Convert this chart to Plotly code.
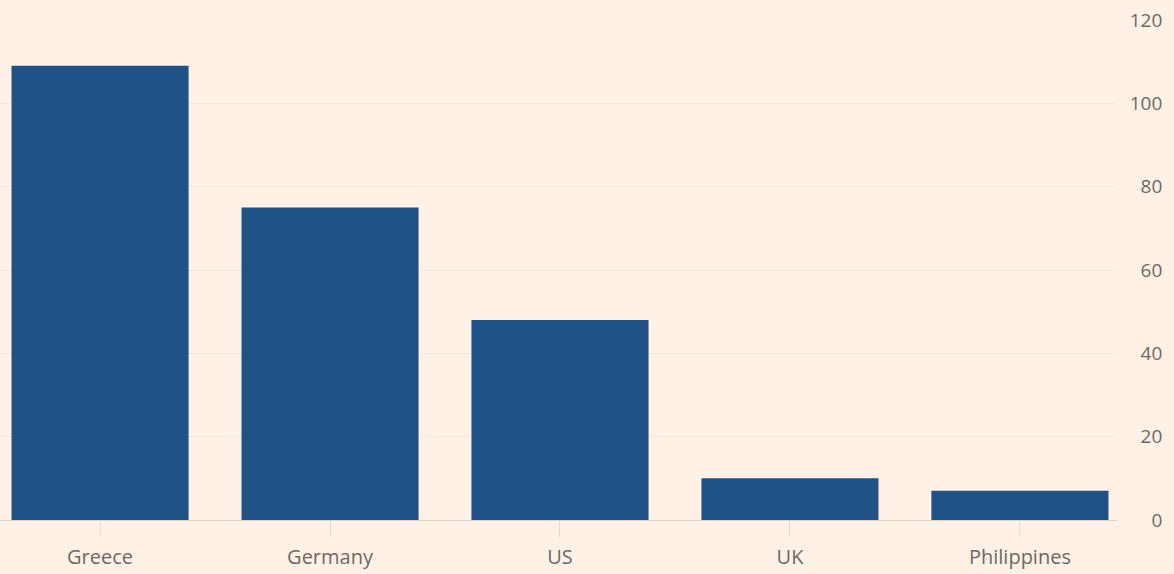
import plotly.graph_objects as go

countries = ["Greece", "Germany", "US", "UK", "Philippines"]
values = [109, 75, 48, 10, 7]
y_ticks = [0, 20, 40, 60, 80, 100, 120]

W, H = 1174, 574
fig = go.Figure()
fig.add_trace(go.Bar(
    x=countries, y=values,
    marker=dict(color="#1F5388", line=dict(width=0)),
    hoverinfo="skip",
))

plot_right = 1117 / W
fig.update_layout(
    width=W, height=H,
    margin=dict(l=0, r=0, t=20, b=54),
    paper_bgcolor="#FFF1E5",
    plot_bgcolor="#FFF1E5",
    bargap=0.23,
    showlegend=False,
    font=dict(family="Open Sans", color="#6F6863", size=19),
    xaxis=dict(
        domain=[0, plot_right],
        range=[-0.435, 4.422],
        showgrid=False,
        showline=False,
        zeroline=False,
        ticks="outside",
        ticklen=16,
        tickwidth=1,
        tickcolor="#E6D9CE",
        ticklabelstandoff=3,
        tickfont=dict(size=20, color="#6F6863"),
    ),
    yaxis=dict(
        range=[0, 120],
        tickvals=y_ticks,
        side="left",
        anchor="free",
        position=0.99,
        showgrid=True,
        gridcolor="#F5E6DA",
        gridwidth=1,
        zeroline=True,
        zerolinecolor="#E0D3C8",
        zerolinewidth=1,
        showline=False,
        ticks="",
        tickfont=dict(size=19, color="#6F6863"),
    ),
)

fig.write_html("out.html")
